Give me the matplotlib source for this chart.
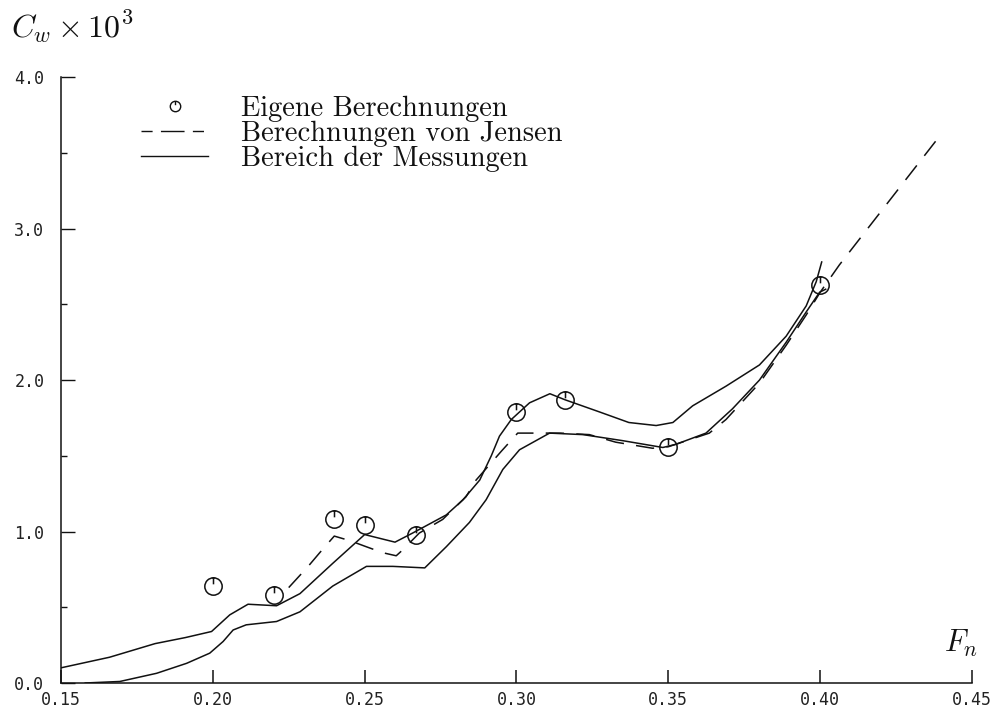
import matplotlib
matplotlib.use("Agg")
import matplotlib.pyplot as plt
from matplotlib.path import Path
from matplotlib.lines import Line2D

# ---------------- data ----------------
calc_x = [0.200, 0.220, 0.240, 0.250, 0.267, 0.300, 0.316, 0.350, 0.400]
calc_y = [0.64, 0.58, 1.08, 1.04, 0.98, 1.79, 1.87, 1.56, 2.63]

upper_x = [0.150, 0.166, 0.181, 0.191, 0.1996, 0.2056, 0.2116, 0.221, 0.2287,
           0.2395, 0.250, 0.260, 0.2658, 0.2769, 0.2824, 0.2879, 0.2917, 0.2944,
           0.2983, 0.3043, 0.3110, 0.316, 0.3273, 0.337, 0.346, 0.3515, 0.358,
           0.369, 0.380, 0.3888, 0.3954, 0.3987, 0.4005]
upper_y = [0.10, 0.17, 0.26, 0.30, 0.34, 0.45, 0.52, 0.51, 0.59,
           0.79, 0.98, 0.93, 0.99, 1.11, 1.21, 1.34, 1.50, 1.63,
           1.74, 1.85, 1.91, 1.87, 1.79, 1.72, 1.70, 1.72, 1.83,
           1.96, 2.10, 2.29, 2.49, 2.65, 2.78]

lower_x = [0.158, 0.1694, 0.1815, 0.1914, 0.199, 0.2034, 0.2067, 0.211, 0.221,
           0.2287, 0.2395, 0.2506, 0.2593, 0.2698, 0.2769, 0.2845, 0.290, 0.2955,
           0.301, 0.3109, 0.3219, 0.335, 0.3482, 0.3525, 0.3624, 0.3711, 0.380,
           0.3888, 0.3954, 0.3998, 0.4018]
lower_y = [0.0, 0.01, 0.064, 0.13, 0.197, 0.274, 0.35, 0.384, 0.406,
           0.47, 0.64, 0.77, 0.77, 0.76, 0.90, 1.06, 1.21, 1.41,
           1.54, 1.65, 1.64, 1.60, 1.555, 1.576, 1.65, 1.81, 2.00,
           2.25, 2.45, 2.58, 2.60]

jensen_x = [0.225, 0.2314, 0.2352, 0.2400, 0.2451, 0.2505, 0.256, 0.2604, 0.2626,
            0.268, 0.2757, 0.2834, 0.2867, 0.2950, 0.3004, 0.3144, 0.324, 0.3327,
            0.3448, 0.350, 0.3635, 0.369, 0.380, 0.3888, 0.3954, 0.400, 0.4063, 0.4389]
jensen_y = [0.63, 0.77, 0.86, 0.97, 0.94, 0.90, 0.86, 0.84, 0.88,
            0.99, 1.08, 1.23, 1.34, 1.53, 1.65, 1.65, 1.64, 1.59,
            1.55, 1.56, 1.65, 1.74, 1.98, 2.23, 2.43, 2.58, 2.76, 3.60]

x_ticks = [0.15, 0.20, 0.25, 0.30, 0.35, 0.40, 0.45]
x_ticklabels = ["0.15", "0.20", "0.25", "0.30", "0.35", "0.40", "0.45"]
y_ticks = [0.0, 1.0, 2.0, 3.0, 4.0]
y_ticklabels = ["0.0", "1.0", "2.0", "3.0", "4.0"]
y_minor = [0.5, 1.5, 2.5, 3.5]

legend_labels = ["Eigene Berechnungen", "Berechnungen von Jensen", "Bereich der Messungen"]

# ---------------- figure ----------------
plt.rcParams["mathtext.fontset"] = "cm"
fig = plt.figure(figsize=(9.99, 7.11), dpi=100)
ax = fig.add_axes([0.061, 0.0394, 0.912, 0.852])
ax.set_xlim(0.15, 0.45)
ax.set_ylim(0.0, 4.0)

# circle marker with small tick at the top
circ = Path.unit_circle()
tick = Path([(0, 1.0), (0, 0.25)], [Path.MOVETO, Path.LINETO])
marker_path = Path.make_compound_path(circ, tick)

ink = "#111111"
lw = 1.1
ax.plot(upper_x, upper_y, color=ink, lw=lw, solid_joinstyle="round")
ax.plot(lower_x, lower_y, color=ink, lw=lw, solid_joinstyle="round")
ax.plot(jensen_x, jensen_y, color=ink, lw=lw, dashes=(12, 8))
ax.plot(calc_x, calc_y, linestyle="none", marker=marker_path, markersize=12.5,
        markerfacecolor="none", markeredgecolor=ink, markeredgewidth=1.1)

# spines
for s in ["top", "right"]:
    ax.spines[s].set_visible(False)
for s in ["left", "bottom"]:
    ax.spines[s].set_linewidth(1.1)
    ax.spines[s].set_color(ink)

mono = "DejaVu Sans Mono"
ax.set_xticks(x_ticks)
ax.set_xticklabels(x_ticklabels, family=mono, fontsize=12, color="#222222")
ax.set_yticks(y_ticks)
ax.set_yticklabels(y_ticklabels, family=mono, fontsize=12, color="#222222")
ax.set_yticks(y_minor, minor=True)
ax.tick_params(axis="x", direction="in", length=9.5, width=1.1, pad=6, color=ink)
ax.tick_params(axis="y", which="major", direction="in", length=10, width=1.0, pad=12, color=ink)
ax.tick_params(axis="y", which="minor", direction="in", length=4, width=1.0, color=ink)

# axis labels
fig.text(0.011, 0.962, r"$C_w\times 10^3$", fontsize=23, color=ink, va="center", ha="left")
ax.text(0.4463, 0.158, r"$F_n$", fontsize=22, color=ink, ha="center", va="bottom")

# legend
handles = [
    Line2D([], [], linestyle="none", marker=marker_path, markersize=7.5,
           markerfacecolor="none", markeredgecolor=ink, markeredgewidth=1.0),
    Line2D([], [], color=ink, lw=1.0, dashes=(8, 6, 17, 6)),
    Line2D([], [], color=ink, lw=1.0),
]
leg = ax.legend(handles, legend_labels, loc="upper left", bbox_to_anchor=(0.0725, 0.993),
                frameon=False, borderpad=0, handlelength=2.35, handletextpad=1.15,
                labelspacing=-0.05, prop={"family": "cmr10", "size": 20.5})
for t in leg.get_texts():
    t.set_color(ink)

fig.savefig("out.png", dpi=100)
